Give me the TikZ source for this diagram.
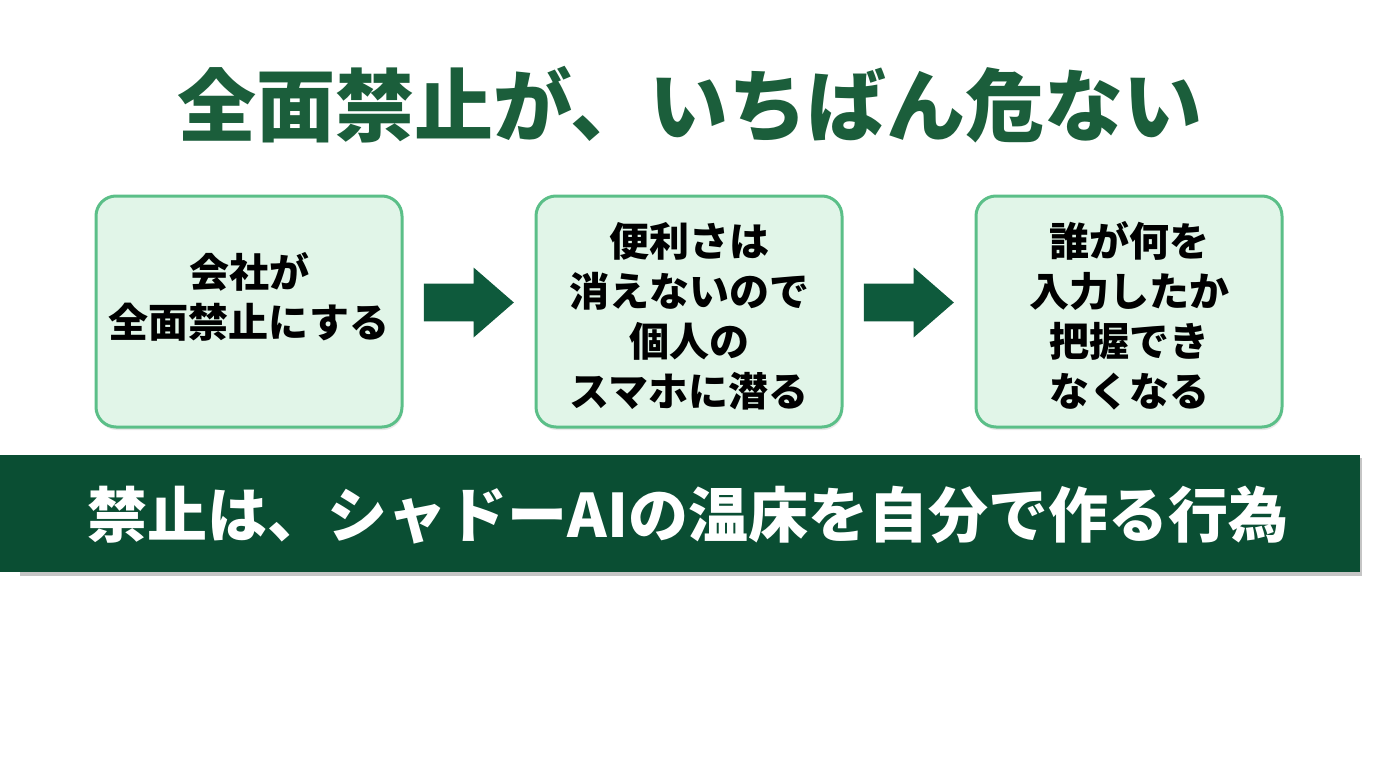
\documentclass[tikz,border=0pt]{standalone}
\usepackage{fontspec}
\setmainfont{Noto Sans CJK JP}
\usetikzlibrary{shapes.arrows,shadows,calc}
\definecolor{titlegreen}{HTML}{1B5E3B}
\definecolor{arrowgreen}{HTML}{0E5A3C}
\definecolor{bannergreen}{HTML}{0A4E33}
\definecolor{boxfill}{HTML}{E1F5E8}
\definecolor{boxline}{HTML}{5BBF88}
\tikzset{
  stepbox/.style={draw=boxline, line width=3pt, fill=boxfill, rounded corners=20pt,
    minimum width=306pt, minimum height=231pt, inner sep=0pt,
    drop shadow={shadow xshift=1pt, shadow yshift=-3pt, opacity=0.18}},
  boxtext/.style={align=center, font=\fontsize{40}{50}\selectfont\bfseries, text=black},
  bigarrow/.style={single arrow, fill=arrowgreen, draw=none, minimum height=90pt,
    minimum width=70pt, inner sep=18.5pt, single arrow head extend=16pt, single arrow tip angle=82}
}
\begin{document}
\begin{tikzpicture}[x=1pt,y=-1pt]
\useasboundingbox (0,0) rectangle (1376,768);
\fill[white] (0,0) rectangle (1376,768);
% title
\node[font=\fontsize{79}{84}\selectfont\bfseries, text=titlegreen] (title) at (690,105) {全面禁止が、いちばん危ない};
% boxes
\node[stepbox] (b1) at (249,311.5) {};
\node[stepbox] (b2) at (689,311.5) {};
\node[stepbox] (b3) at (1129,311.5) {};
\node[boxtext] (t1) at (249,297) {会社が\\全面禁止にする};
\node[boxtext] (t2) at (689,316) {便利さは\\消えないので\\個人の\\スマホに潜る};
\node[boxtext] (t3) at (1129,316) {誰が何を\\入力したか\\把握でき\\なくなる};
% arrows
\node[bigarrow, xshift=-11pt, yshift=9pt] (a1) at ($(b1.east)!0.5!(b2.west)$) {};
\node[bigarrow, xshift=-11pt, yshift=9pt] (a2) at ($(b2.east)!0.5!(b3.west)$) {};
% banner
\fill[black!45, opacity=0.5] (20,458) rectangle (1362,576);
\node[fill=bannergreen, minimum width=1360pt, minimum height=117pt, inner sep=0pt, anchor=north west] (banner) at (0,455) {};
\node[font=\fontsize{60}{64}\selectfont\bfseries, text=white] (btext) at (688,515) {禁止は、シャドーAIの温床を自分で作る行為};
\end{tikzpicture}
\end{document}
